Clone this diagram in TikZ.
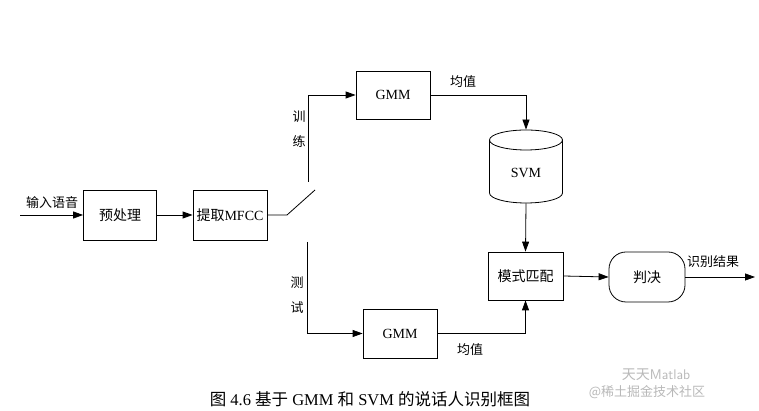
\documentclass[tikz,border=0pt]{standalone}
\usepackage{fontspec}
\setmainfont{Liberation Serif}
\newfontfamily\cjk{Noto Sans CJK SC}
\usetikzlibrary{arrows.meta,positioning,calc}
\begin{document}
\begin{tikzpicture}[x=1pt,y=1pt,
  line width=0.8pt,
  box/.style={draw, minimum width=74pt, minimum height=49pt, inner sep=0pt, font=\fontsize{14}{16}\selectfont},
  lbl/.style={inner sep=0pt, font=\fontsize{13}{15}\selectfont\cjk},
  arr/.style={-{Triangle[length=10pt,width=7pt]}}]
\useasboundingbox (0,0) rectangle (759,411);
\fill[white] (0,0) rectangle (759,411);
% nodes
\coordinate (in) at (20,196);
\node[box, minimum width=73pt, minimum height=50pt] (pre) at (120,196) {\cjk 预处理};
\node[box, minimum height=50pt] (mfcc) at (230,196) {{\cjk 提取}MFCC};
\coordinate (sw0) at (287,196);
\coordinate (sw1) at (315,221);
\coordinate (tr0) at (308,229);
\coordinate (tr1) at (308,316);
\coordinate (te0) at (307,169);
\coordinate (te1) at (307,77.5);
\node[box, minimum height=48pt] (gmm1) at (393,316) {GMM};
\node[box] (gmm2) at (400,77.5) {GMM};
% SVM cylinder
\node[minimum width=73pt, minimum height=73pt, inner sep=0pt] (svm) at (526,244.5) {};
\node[inner sep=0pt, font=\fontsize{14}{16}\selectfont] (svmtext) at (526,238) {SVM};
\draw (489.5,271) -- (489.5,218) arc[start angle=180, end angle=360, x radius=36.5, y radius=10] -- (562.5,271);
\draw (526,271) ellipse[x radius=36.5, y radius=10];
\node[box, minimum width=75pt, minimum height=48pt] (match) at (525.5,135) {\cjk 模式匹配};
\node[box, minimum width=76pt, minimum height=50pt, rounded corners=17pt] (judge) at (647,134) {\cjk 判决};
\coordinate (out) at (755,134);
% connectors
\draw[arr] (in) -- (pre);
\draw[arr] (pre) -- (mfcc);
\draw (mfcc.east) -- (sw0) -- (sw1);
\draw[arr] (tr0) -- (tr1) -- (gmm1.west);
\draw[arr] (gmm1.east) -| (svm.north);
\draw[arr] (svm.south) -- (match.north);
\draw[arr] (te0) -- (te1) -- (gmm2.west);
\draw[arr] (gmm2.east) -| (match.south);
\draw[arr] (match.east) -- (judge.west);
\draw[arr] (judge.east) -- (out);
% labels
\node[lbl] (l1) at (52,208) {输入语音};
\node[lbl] (l2) at (299,294) {训};
\node[lbl] (l3) at (299,269) {练};
\node[lbl] (l4) at (297,128) {测};
\node[lbl] (l5) at (297,103) {试};
\node[lbl] (l6) at (463,329) {均值};
\node[lbl] (l7) at (470,61) {均值};
\node[lbl] (l8) at (713,149) {识别结果};
% caption
\node[inner sep=0pt, font=\fontsize{16.5}{18}\selectfont] (cap) at (370,12) {{\cjk 图} 4.6 {\cjk 基于} GMM {\cjk 和} SVM {\cjk 的说话人识别框图}};
% watermark
\node[inner sep=0pt, text=gray!55, font=\fontsize{14}{16}\selectfont\sffamily] (wm1) at (656,36) {{\cjk 天天}Matlab};
\node[inner sep=0pt, text=gray!55, font=\fontsize{13}{15}\selectfont\cjk] (wm2) at (647,19) {@稀土掘金技术社区};
\end{tikzpicture}
\end{document}
